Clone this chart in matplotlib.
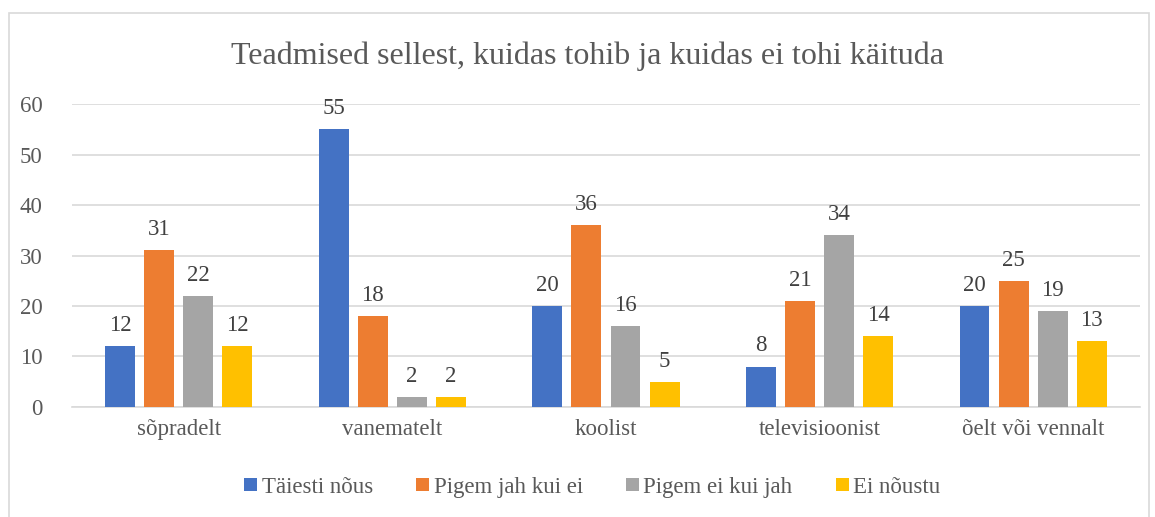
import matplotlib.pyplot as plt
import numpy as np
from matplotlib.patches import Rectangle

categories = ['sõpradelt', 'vanematelt', 'koolist', 'televisioonist', 'õelt või vennalt']
series = ['Täiesti nõus', 'Pigem jah kui ei', 'Pigem ei kui jah', 'Ei nõustu']
values = [
    [12, 55, 20, 8, 20],
    [31, 18, 36, 21, 25],
    [22, 2, 16, 34, 19],
    [12, 2, 5, 14, 13],
]
colors = ['#4472c4', '#ed7d31', '#a5a5a5', '#ffc000']
title = 'Teadmised sellest, kuidas tohib ja kuidas ei tohi käituda'

plt.rcParams['font.family'] = ['Liberation Serif', 'DejaVu Serif']
txt = '#595959'

fig = plt.figure(figsize=(11.55, 5.17), dpi=100)
ax = fig.add_axes([0.0623, 0.2128, 0.9247, 0.586])

x = np.arange(len(categories))
w = 0.14
step = 0.183
for i, (s, v, c) in enumerate(zip(series, values, colors)):
    xs = x + (i - 1.5) * step
    ax.bar(xs, v, w, color=c, label=s, zorder=3)
    for xi, vi in zip(xs, v):
        ax.text(xi, vi + 2.0, str(vi), ha='center', va='bottom', fontsize=16.5, color='#404040')

ax.set_xlim(-0.5, len(categories) - 0.5)
ax.set_ylim(0, 60)
ax.set_yticks(range(0, 61, 10))
ax.set_xticks(x)
ax.set_xticklabels(categories)
ax.yaxis.grid(True, color='#d9d9d9', linewidth=1.2, zorder=0)
for sp in ['top', 'right', 'left']:
    ax.spines[sp].set_visible(False)
ax.spines['bottom'].set_color('#d9d9d9')
ax.spines['bottom'].set_linewidth(1.2)
ax.tick_params(axis='both', length=0, labelsize=16.5, colors=txt)
ax.tick_params(axis='y', pad=21)
ax.tick_params(axis='x', pad=9)

fig.text(0.509, 0.892, title, ha='center', va='center', fontsize=23, color=txt)

fig.legend(loc='center', bbox_to_anchor=(0.513, 0.058), ncol=4, frameon=False,
           fontsize=16.5, handlelength=0.55, handleheight=0.55, handletextpad=0.2,
           columnspacing=1.9, labelcolor=txt)

fig.patches.append(Rectangle((9 / 1155, -0.05), 1140 / 1155, (517 - 13) / 517 + 0.05,
                             transform=fig.transFigure, fill=False, edgecolor='#d9d9d9',
                             linewidth=1.2))

fig.savefig('out.png', dpi=100)
